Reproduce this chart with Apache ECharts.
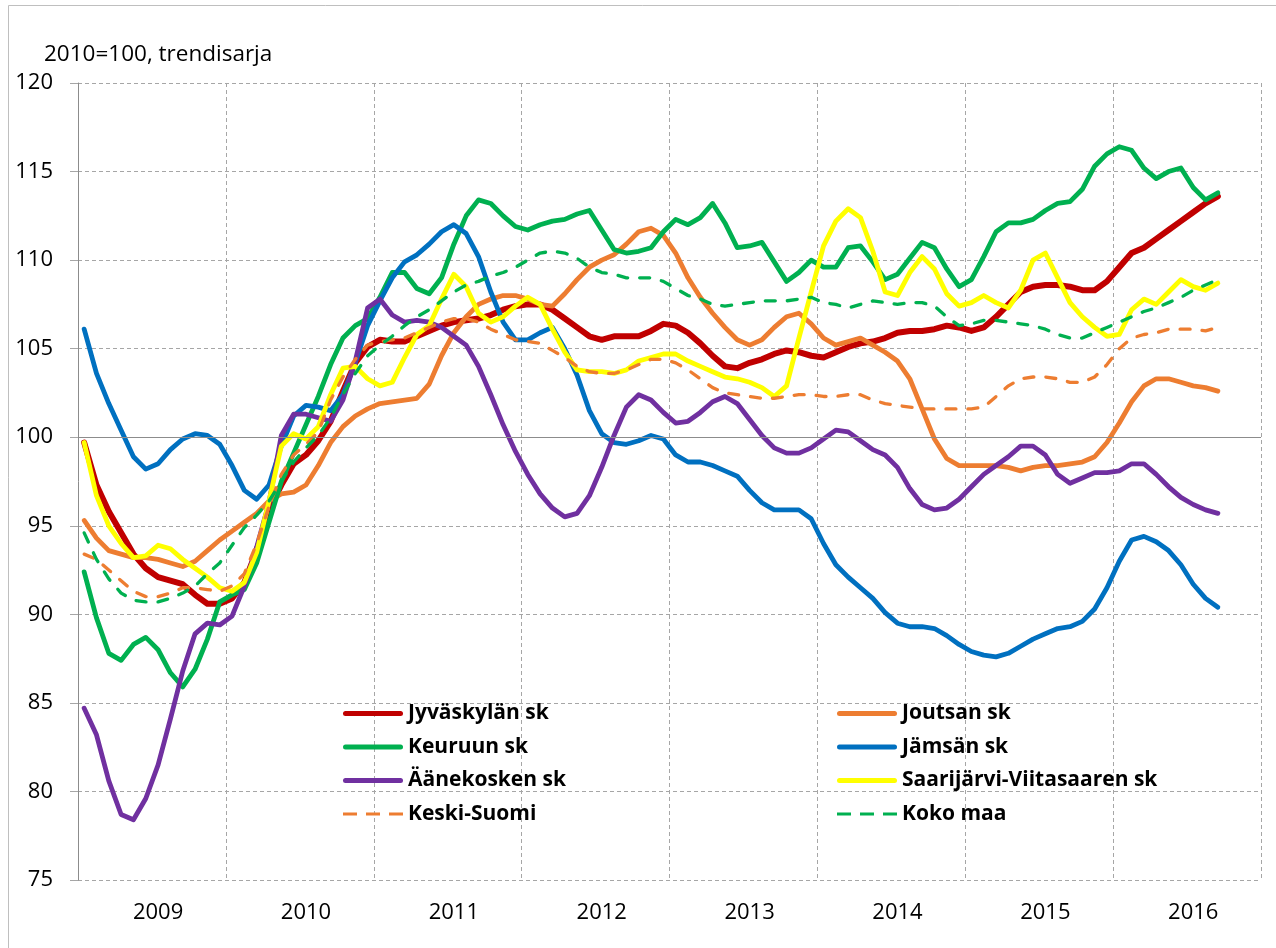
<!DOCTYPE html>
<html>
<head>
<meta charset="utf-8">
<script src="https://cdn.jsdelivr.net/npm/echarts@6/dist/echarts.min.js"></script>
<style>
  html, body { margin: 0; padding: 0; background: #fff; }
  #chart { width: 1276px; height: 948px; }
</style>
</head>
<body>
<div id="chart"></div>
<script>
// vuodet, kuukausittainen trendisarja (2010=100)
const years = ['2009', '2010', '2011', '2012', '2013', '2014', '2015', '2016']
const months = []
years.forEach(y => {
  for (let m = 1; m <= 12; m++) months.push(y + '-' + (m < 10 ? '0' + m : m))
})

const jyvaskyla = [
  99.7, 97.3, 95.8, 94.6, 93.4, 92.6, 92.1, 91.9, 91.7, 91.1, 90.6, 90.6,
  90.9, 91.8, 93.6, 95.9, 97.3, 98.5, 99.0, 99.8, 100.9, 102.6, 104.2, 105.1,
  105.5, 105.4, 105.4, 105.7, 106.0, 106.3, 106.5, 106.6, 106.7, 106.9, 107.2, 107.4,
  107.5, 107.5, 107.2, 106.7, 106.2, 105.7, 105.5, 105.7, 105.7, 105.7, 106.0, 106.4,
  106.3, 105.9, 105.3, 104.6, 104.0, 103.9, 104.2, 104.4, 104.7, 104.9, 104.8, 104.6,
  104.5, 104.8, 105.1, 105.3, 105.4, 105.6, 105.9, 106.0, 106.0, 106.1, 106.3, 106.2,
  106.0, 106.2, 106.8, 107.5, 108.2, 108.5, 108.6, 108.6, 108.5, 108.3, 108.3, 108.8,
  109.6, 110.4, 110.7, 111.2, 111.7, 112.2, 112.7, 113.2, 113.6
]
const joutsa = [
  95.3, 94.3, 93.6, 93.4, 93.2, 93.2, 93.1, 92.9, 92.7, 93.0, 93.6, 94.2,
  94.7, 95.2, 95.7, 96.4, 96.8, 96.9, 97.3, 98.4, 99.7, 100.6, 101.2, 101.6,
  101.9, 102.0, 102.1, 102.2, 103.0, 104.6, 105.9, 106.8, 107.5, 107.8, 108.0, 108.0,
  107.8, 107.5, 107.4, 108.1, 108.9, 109.6, 110.0, 110.3, 110.9, 111.6, 111.8, 111.4,
  110.4, 109.0, 107.9, 107.0, 106.2, 105.5, 105.2, 105.5, 106.2, 106.8, 107.0, 106.4,
  105.6, 105.2, 105.4, 105.6, 105.2, 104.8, 104.3, 103.3, 101.6, 99.9, 98.8, 98.4,
  98.4, 98.4, 98.4, 98.3, 98.1, 98.3, 98.4, 98.4, 98.5, 98.6, 98.9, 99.7,
  100.8, 102.0, 102.9, 103.3, 103.3, 103.1, 102.9, 102.8, 102.6
]
const keuruu = [
  92.4, 89.8, 87.8, 87.4, 88.3, 88.7, 88.0, 86.7, 85.9, 86.9, 88.6, 90.7,
  91.1, 91.4, 92.9, 95.2, 97.5, 99.1, 100.7, 102.3, 104.1, 105.6, 106.3, 106.7,
  107.9, 109.3, 109.3, 108.4, 108.1, 109.0, 110.9, 112.5, 113.4, 113.2, 112.5, 111.9,
  111.7, 112.0, 112.2, 112.3, 112.6, 112.8, 111.7, 110.6, 110.4, 110.5, 110.7, 111.6,
  112.3, 112.0, 112.4, 113.2, 112.1, 110.7, 110.8, 111.0, 109.9, 108.8, 109.3, 110.0,
  109.6, 109.6, 110.7, 110.8, 109.9, 108.9, 109.2, 110.1, 111.0, 110.7, 109.5, 108.5,
  108.9, 110.2, 111.6, 112.1, 112.1, 112.3, 112.8, 113.2, 113.3, 114.0, 115.3, 116.0,
  116.4, 116.2, 115.2, 114.6, 115.0, 115.2, 114.1, 113.4, 113.8
]
const jamsa = [
  106.1, 103.6, 101.9, 100.4, 98.9, 98.2, 98.5, 99.3, 99.9, 100.2, 100.1, 99.6,
  98.4, 97.0, 96.5, 97.3, 99.5, 101.2, 101.8, 101.7, 101.5, 102.4, 104.2, 106.3,
  107.7, 109.0, 109.9, 110.3, 110.9, 111.6, 112.0, 111.5, 110.2, 108.2, 106.5, 105.5,
  105.5, 105.9, 106.2, 105.0, 103.5, 101.5, 100.2, 99.7, 99.6, 99.8, 100.1, 99.9,
  99.0, 98.6, 98.6, 98.4, 98.1, 97.8, 97.0, 96.3, 95.9, 95.9, 95.9, 95.4,
  94.0, 92.8, 92.1, 91.5, 90.9, 90.1, 89.5, 89.3, 89.3, 89.2, 88.8, 88.3,
  87.9, 87.7, 87.6, 87.8, 88.2, 88.6, 88.9, 89.2, 89.3, 89.6, 90.3, 91.5,
  93.0, 94.2, 94.4, 94.1, 93.6, 92.8, 91.7, 90.9, 90.4
]
const aanekoski = [
  84.7, 83.2, 80.6, 78.7, 78.4, 79.6, 81.5, 84.1, 86.8, 88.9, 89.5, 89.4,
  89.9, 91.6, 93.8, 96.3, 100.1, 101.3, 101.3, 101.1, 100.9, 102.1, 104.3, 107.3,
  107.8, 106.9, 106.5, 106.6, 106.5, 106.2, 105.7, 105.2, 104.0, 102.4, 100.7, 99.2,
  97.9, 96.8, 96.0, 95.5, 95.7, 96.7, 98.3, 100.1, 101.7, 102.4, 102.1, 101.4,
  100.8, 100.9, 101.4, 102.0, 102.3, 101.9, 101.0, 100.1, 99.4, 99.1, 99.1, 99.4,
  99.9, 100.4, 100.3, 99.8, 99.3, 99.0, 98.3, 97.1, 96.2, 95.9, 96.0, 96.5,
  97.2, 97.9, 98.4, 98.9, 99.5, 99.5, 99.0, 97.9, 97.4, 97.7, 98.0, 98.0,
  98.1, 98.5, 98.5, 97.9, 97.2, 96.6, 96.2, 95.9, 95.7
]
const saarijarvi = [
  99.7, 96.7, 95.0, 94.0, 93.2, 93.3, 93.9, 93.7, 93.1, 92.6, 92.1, 91.5,
  91.3, 91.8, 93.5, 96.4, 99.5, 100.2, 99.9, 100.6, 102.4, 103.9, 104.0, 103.3,
  102.9, 103.1, 104.5, 105.8, 106.3, 107.8, 109.2, 108.5, 107.0, 106.5, 106.8, 107.4,
  107.9, 107.5, 106.1, 104.8, 103.8, 103.7, 103.7, 103.6, 103.8, 104.3, 104.5, 104.7,
  104.7, 104.3, 104.0, 103.7, 103.4, 103.3, 103.1, 102.8, 102.3, 102.9, 105.6, 108.2,
  110.8, 112.2, 112.9, 112.4, 110.5, 108.2, 108.0, 109.3, 110.2, 109.5, 108.1, 107.4,
  107.6, 108.0, 107.6, 107.3, 108.3, 110.0, 110.4, 109.0, 107.6, 106.8, 106.2, 105.7,
  105.8, 107.2, 107.8, 107.5, 108.2, 108.9, 108.5, 108.3, 108.7
]
const keskiSuomi = [
  93.4, 93.1, 92.5, 91.9, 91.3, 91.0, 91.0, 91.2, 91.5, 91.5, 91.4, 91.3,
  91.6, 92.3, 94.0, 96.1, 97.9, 99.0, 99.6, 100.3, 102.1, 103.4, 104.4, 105.2,
  105.4, 105.5, 105.6, 105.9, 106.2, 106.5, 106.7, 106.7, 106.5, 106.1, 105.8, 105.5,
  105.4, 105.3, 104.9, 104.5, 104.0, 103.7, 103.6, 103.6, 103.8, 104.1, 104.4, 104.4,
  104.2, 103.8, 103.3, 102.8, 102.5, 102.4, 102.3, 102.2, 102.2, 102.3, 102.4, 102.4,
  102.3, 102.3, 102.4, 102.4, 102.1, 101.9, 101.8, 101.7, 101.6, 101.6, 101.6, 101.6,
  101.6, 101.7, 102.3, 102.9, 103.3, 103.4, 103.4, 103.3, 103.1, 103.1, 103.4, 104.1,
  105.0, 105.6, 105.8, 105.9, 106.1, 106.1, 106.1, 106.0, 106.2
]
const kokoMaa = [
  94.6, 93.1, 92.0, 91.2, 90.8, 90.7, 90.7, 90.9, 91.2, 91.6, 92.3, 92.9,
  93.9, 94.9, 95.6, 96.4, 97.5, 98.6, 99.4, 100.1, 101.1, 102.4, 103.6, 104.6,
  105.2, 105.7, 106.3, 106.8, 107.2, 107.7, 108.2, 108.6, 108.8, 109.1, 109.3, 109.6,
  110.0, 110.4, 110.5, 110.4, 110.1, 109.6, 109.3, 109.2, 109.0, 109.0, 109.0, 108.8,
  108.4, 108.0, 107.8, 107.5, 107.4, 107.5, 107.6, 107.7, 107.7, 107.7, 107.8, 107.9,
  107.6, 107.5, 107.3, 107.5, 107.7, 107.6, 107.5, 107.6, 107.6, 107.4, 106.8, 106.3,
  106.4, 106.6, 106.6, 106.5, 106.4, 106.3, 106.1, 105.8, 105.6, 105.6, 105.9, 106.2,
  106.5, 106.8, 107.1, 107.3, 107.6, 107.9, 108.3, 108.6, 108.9
]

const FONT = 'Open Sans'
const GRID_COLOR = '#a6a6a6'
// selitteen kuvakkeet: yhtenäinen ja katkoviiva
const ICON_SOLID = 'path://M2.5,0 H57.5 A2.5,2.5 0 0 1 57.5,5 H2.5 A2.5,2.5 0 0 1 2.5,0 Z'
const ICON_DASH = 'path://M0,1 h14 v3 h-14 Z M23,1 h14 v3 h-14 Z M46,1 h14 v3 h-14 Z'

const chart = echarts.init(document.getElementById('chart'))

function lineSeries (name, data, color, width, dashed) {
  return {
    name: name,
    type: 'line',
    xAxisIndex: 0,
    data: data,
    symbol: 'none',
    showSymbol: false,
    color: color,
    lineStyle: {
      color: color,
      width: width,
      type: dashed ? [10, 12] : 'solid',
      cap: 'round',
      join: 'round'
    },
    emphasis: { disabled: true }
  }
}

const series = [
  lineSeries('Jyväskylän sk', jyvaskyla, '#C00000', 6),
  lineSeries('Joutsan sk', joutsa, '#ED7D31', 4.8),
  lineSeries('Keuruun sk', keuruu, '#00B050', 4.8),
  lineSeries('Jämsän sk', jamsa, '#0070C0', 4.8),
  lineSeries('Äänekosken sk', aanekoski, '#7030A0', 4.8),
  lineSeries('Saarijärvi-Viitasaaren sk', saarijarvi, '#FFFF00', 4.8),
  lineSeries('Keski-Suomi', keskiSuomi, '#ED7D31', 3.3, true),
  lineSeries('Koko maa', kokoMaa, '#00B050', 3.3, true)
]
// vaaka-akseli leikkaa kohdassa 100
series[0].markLine = {
  silent: true,
  symbol: 'none',
  label: { show: false },
  lineStyle: { color: '#8c8c8c', type: 'solid', width: 1 },
  data: [{ yAxis: 100 }]
}

const legendCommon = {
  orient: 'vertical',
  top: 703,
  padding: 0,
  itemWidth: 60,
  itemHeight: 5,
  itemGap: 12.5,
  selectedMode: false,
  textStyle: {
    fontFamily: FONT,
    fontSize: 21,
    fontWeight: 'bold',
    color: '#000',
    lineHeight: 20
  }
}

chart.setOption({
  animation: false,
  backgroundColor: '#fff',
  textStyle: { fontFamily: FONT },
  title: {
    text: '2010=100, trendisarja',
    left: 44,
    top: 43,
    padding: 0,
    textStyle: { fontFamily: FONT, fontSize: 22.5, fontWeight: 'normal', color: '#000' }
  },
  graphic: [{
    type: 'rect',
    silent: true,
    shape: { x: 8.5, y: 5.5, width: 1300, height: 1000 },
    style: { fill: 'none', stroke: '#bfbfbf', lineWidth: 1 }
  }],
  legend: [
    Object.assign({}, legendCommon, {
      left: 343,
      data: [
        { name: 'Jyväskylän sk', icon: ICON_SOLID },
        { name: 'Keuruun sk', icon: ICON_SOLID },
        { name: 'Äänekosken sk', icon: ICON_SOLID },
        { name: 'Keski-Suomi', icon: ICON_DASH }
      ]
    }),
    Object.assign({}, legendCommon, {
      left: 837,
      data: [
        { name: 'Joutsan sk', icon: ICON_SOLID },
        { name: 'Jämsän sk', icon: ICON_SOLID },
        { name: 'Saarijärvi-Viitasaaren sk', icon: ICON_SOLID },
        { name: 'Koko maa', icon: ICON_DASH }
      ]
    })
  ],
  grid: { left: 78, right: 15, top: 83, bottom: 68, containLabel: false },
  xAxis: [
    {
      type: 'category',
      data: months,
      boundaryGap: true,
      axisLine: { show: false },
      axisTick: { show: false },
      splitLine: { show: false },
      axisLabel: {
        interval: (idx) => idx % 12 === 6,
        formatter: (v) => v.slice(0, 4),
        fontFamily: FONT,
        fontSize: 22,
        color: '#000',
        margin: 22
      }
    },
    {
      // vuosien väliset pystyviivat
      type: 'value',
      min: 0,
      max: 96,
      interval: 12,
      position: 'bottom',
      axisLine: { show: false },
      axisTick: { show: false },
      axisLabel: { show: false },
      splitLine: { show: true, lineStyle: { color: GRID_COLOR, type: [4, 3], width: 1 } }
    }
  ],
  yAxis: {
    type: 'value',
    min: 75,
    max: 120,
    interval: 5,
    axisLine: { show: true, lineStyle: { color: '#8c8c8c', width: 1 } },
    axisTick: { show: true, length: 8, lineStyle: { color: GRID_COLOR } },
    axisLabel: { fontFamily: FONT, fontSize: 22, color: '#000', margin: 25 },
    splitLine: { show: true, lineStyle: { color: GRID_COLOR, type: [4, 3], width: 1 } }
  },
  series: series
})
</script>
</body>
</html>
